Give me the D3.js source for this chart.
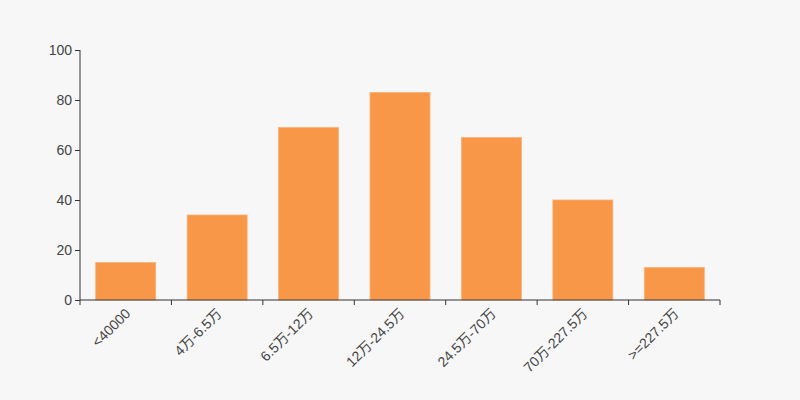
<!DOCTYPE html>
<html><head><meta charset="utf-8">
<script src="https://cdn.jsdelivr.net/npm/d3@7"></script>
<style>body{margin:0;background:#f7f7f7;}svg{display:block;font-family:"Liberation Sans",Arial,"Noto Sans CJK SC",sans-serif;}</style>
</head><body>
<svg id="c" width="800" height="400"></svg>
<script>
const categories = ["<40000","4万-6.5万","6.5万-12万","12万-24.5万","24.5万-70万","70万-227.5万",">=227.5万"];
const values = [15, 34, 69, 83, 65, 40, 13];
const yTicks = [0, 20, 40, 60, 80, 100];

const svg = d3.select("#c");
svg.append("rect").attr("width",800).attr("height",400).attr("fill","#f7f7f7");
const m = {l:80, r:80, t:50, b:100};
const w = 800 - m.l - m.r, h = 400 - m.t - m.b;
const g = svg.append("g").attr("transform",`translate(${m.l},${m.t})`);
const x = d3.scaleBand().domain(categories).range([0,w]);
const y = d3.scaleLinear().domain([0,100]).range([h,0]);
const bw = 60;

g.selectAll("rect.bar").data(values).join("rect").attr("class","bar")
  .attr("x",(d,i)=>x(categories[i]) + (x.bandwidth()-bw)/2)
  .attr("y",d=>y(d)).attr("width",bw).attr("height",d=>h-y(d))
  .attr("fill","#f79747").attr("stroke","#f9b27a").attr("stroke-width",0.8);

// y axis
const ya = g.append("g").call(d3.axisLeft(y).tickValues(yTicks).tickSize(5).tickPadding(3));
ya.select(".domain").attr("stroke","#333").attr("d",`M0,${h}V0`);
ya.selectAll(".tick line").attr("stroke","#333");
ya.selectAll(".tick text").attr("fill","#444").attr("font-size",14).attr("font-family","'Liberation Sans',Arial,sans-serif");

// x axis
const xa = g.append("g").attr("transform",`translate(0,${h})`);
xa.append("path").attr("d",`M0,0H${w}`).attr("stroke","#333").attr("fill","none");
const bounds = d3.range(categories.length+1).map(i=>i*x.step());
xa.selectAll("line.t").data(bounds).join("line").attr("class","t")
  .attr("x1",d=>d).attr("x2",d=>d).attr("y1",0).attr("y2",5).attr("stroke","#333");
xa.selectAll("text").data(categories).join("text")
  .attr("transform",d=>`translate(${x(d)+x.bandwidth()/2+2},${11}) rotate(-45)`)
  .attr("text-anchor","end").attr("dy","0.35em")
  .attr("font-size",14).attr("fill","#444").text(d=>d);
</script>
</body></html>
